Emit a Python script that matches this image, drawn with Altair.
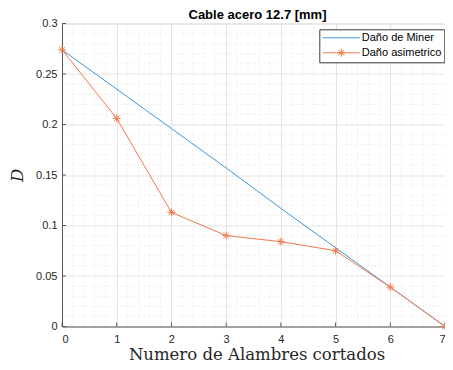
import altair as alt
import pandas as pd

# ---- data ----
alambres = [0, 1, 2, 3, 4, 5, 6, 7]
dano_miner = [0.274, 0.235, 0.196, 0.157, 0.117, 0.078, 0.039, 0.0]
dano_asim = [0.274, 0.206, 0.113, 0.090, 0.084, 0.075, 0.039, 0.0]
series = ["Daño de Miner", "Daño asimetrico"]
colors = ["#3f97d6", "#ee7b4c"]

x_ticks = [0, 1, 2, 3, 4, 5, 6, 7]
y_ticks = [0, 0.05, 0.1, 0.15, 0.2, 0.25, 0.3]
x_minor = [0.2, 0.4, 0.6, 0.8, 1.2, 1.4, 1.6, 1.8, 2.2, 2.4, 2.6, 2.8,
           3.2, 3.4, 3.6, 3.8, 4.2, 4.4, 4.6, 4.8, 5.2, 5.4, 5.6, 5.8,
           6.2, 6.4, 6.6, 6.8]
y_minor = [0.01, 0.02, 0.03, 0.04, 0.06, 0.07, 0.08, 0.09, 0.11, 0.12, 0.13, 0.14,
           0.16, 0.17, 0.18, 0.19, 0.21, 0.22, 0.23, 0.24, 0.26, 0.27, 0.28, 0.29]

df = pd.DataFrame({
    "x": alambres * 2,
    "D": dano_miner + dano_asim,
    "serie": [series[0]] * len(alambres) + [series[1]] * len(alambres),
})
df_xm = pd.DataFrame({"v": x_minor})
df_ym = pd.DataFrame({"v": y_minor})
df_xt = pd.DataFrame({"v": x_ticks})
df_yt = pd.DataFrame({"v": y_ticks})

W, H = 383, 303
xscale = alt.Scale(domain=[0, 7], nice=False, zero=False)
yscale = alt.Scale(domain=[0, 0.3], nice=False, zero=False)

ASTER = "M-1,0L1,0M0,-1L0,1M-0.7,-0.7L0.7,0.7M-0.7,0.7L0.7,-0.7"
LEG_LINE = "M-3.7,0L3.7,0"
LEG_AST = "M-3.7,0L3.7,0M-0.8,0L0.8,0M0,-0.8L0,0.8M-0.57,-0.57L0.57,0.57M-0.57,0.57L0.57,-0.57"

x_axis = alt.Axis(
    values=x_ticks, format="~g", grid=True, gridColor="#e3e3e3", gridWidth=1,
    domainColor="#5a5a5a", domainWidth=1, ticks=False,
    labelFont="Liberation Sans", labelFontSize=11, labelColor="#262626",
    labelPadding=7,
    title="Numero de Alambres cortados", titleFont="DejaVu Serif",
    titleFontSize=16.5, titleFontWeight="normal", titleColor="#262626",
    titleX=W / 2 + 3, titleY=33, titleBaseline="alphabetic", titleAlign="center",
)
y_axis = alt.Axis(
    values=y_ticks, format="~g", grid=True, gridColor="#e3e3e3", gridWidth=1,
    domainColor="#5a5a5a", domainWidth=1, ticks=False,
    labelFont="Liberation Sans", labelFontSize=11, labelColor="#262626",
    labelPadding=5,
    title="D", titleFont="DejaVu Serif", titleFontStyle="italic",
    titleFontSize=16.5, titleFontWeight="normal", titleColor="#262626",
    titleX=-45, titleY=H / 2, titleAngle=270, titleAlign="center",
    titleBaseline="middle",
)

minor_x = alt.Chart(df_xm).mark_rule(
    color="#e6e6e6", strokeDash=[1, 2], strokeWidth=1
).encode(x=alt.X("v:Q", scale=xscale, axis=x_axis))

minor_y = alt.Chart(df_ym).mark_rule(
    color="#e6e6e6", strokeDash=[1, 2], strokeWidth=1
).encode(y=alt.Y("v:Q", scale=yscale, axis=y_axis))

# inward ticks (MATLAB style)
ticks_x = alt.Chart(df_xt).mark_rule(color="#5a5a5a", strokeWidth=1).encode(
    x=alt.X("v:Q", scale=xscale, axis=x_axis), y=alt.value(H), y2=alt.value(H - 4))
ticks_y = alt.Chart(df_yt).mark_rule(color="#5a5a5a", strokeWidth=1).encode(
    y=alt.Y("v:Q", scale=yscale, axis=y_axis), x=alt.value(0), x2=alt.value(4))

legend = alt.Legend(
    orient="none", legendX=257.3, legendY=5.8, title=None,
    symbolSize=100, symbolStrokeWidth=1, symbolOffset=13.5, labelOffset=15,
    padding=3, rowPadding=3, strokeColor="#3a3a3a", fillColor="white",
    labelFont="Liberation Sans", labelFontSize=11, labelColor="#000000",
    symbolType=LEG_LINE,
)

lines = alt.Chart(df).mark_line(strokeWidth=1).encode(
    x=alt.X("x:Q", scale=xscale, axis=x_axis),
    y=alt.Y("D:Q", scale=yscale, axis=y_axis),
    color=alt.Color("serie:N", scale=alt.Scale(domain=series, range=colors), legend=legend),
    order=alt.Order("x:Q"),
)

points = alt.Chart(df).transform_filter(
    alt.datum.serie == series[1]
).mark_point(shape=ASTER, size=64, filled=False, strokeWidth=1, opacity=1).encode(
    x=alt.X("x:Q", scale=xscale, axis=x_axis),
    y=alt.Y("D:Q", scale=yscale, axis=y_axis),
    color=alt.Color("serie:N", scale=alt.Scale(domain=series, range=colors), legend=None),
)

chart = alt.layer(minor_x, minor_y, ticks_x, ticks_y, lines, points).properties(
    width=W, height=H,
    title=alt.TitleParams(
        "Cable acero 12.7 [mm]", font="Liberation Sans", fontSize=13,
        fontWeight="bold", color="#000000", anchor="middle", baseline="alphabetic",
        offset=5, dy=19.5, dx=4,
    ),
    autosize=alt.AutoSizeParams(type="none"),
    padding={"left": 54, "top": 15.5, "right": 0, "bottom": 35.5},
).configure_view(stroke=None).configure(background="white")

# custom legend symbol per entry (line with asterisk for the second series)
SHAPE_SIG = "datum.value == '" + series[1] + "' ? '" + LEG_AST + "' : '" + LEG_LINE + "'"

_orig_to_dict = chart.to_dict


def _patched_to_dict(*args, **kwargs):
    d = _orig_to_dict(*args, **kwargs)
    for lyr in d.get("layer", []):
        col = lyr.get("encoding", {}).get("color")
        if col and col.get("legend"):
            col["legend"]["encode"] = {"symbols": {"update": {
                "shape": {"signal": SHAPE_SIG},
                "fill": {"value": "transparent"},
            }}}
    return d


object.__setattr__(chart, "to_dict", _patched_to_dict)
chart.save("out.html", embed_options={"renderer": "svg", "actions": False})
